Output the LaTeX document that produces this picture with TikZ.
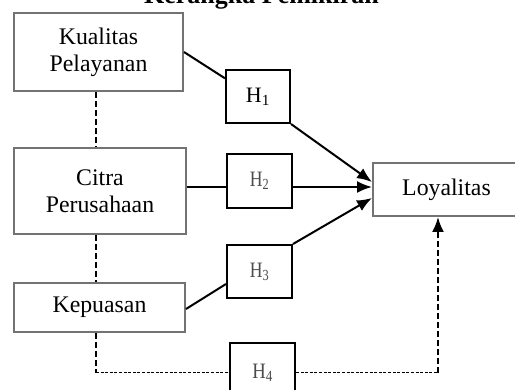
\documentclass[tikz,border=0pt]{standalone}
\usepackage{fontspec}
\setmainfont{Liberation Serif}
\usetikzlibrary{calc,arrows.meta}
\begin{document}
\begin{tikzpicture}[x=1pt,y=-1pt,
  varbox/.style={draw=gray!90!black,line width=2pt,fill=white,align=center,
    font=\fontsize{23.8}{27}\selectfont,inner sep=0pt},
  hbox/.style={draw=black,line width=2pt,fill=white,minimum width=64pt,
    minimum height=53pt,inner sep=0pt,font=\fontsize{22}{24}\selectfont},
  hlabel/.style={text=black!70},
  conn/.style={line width=2pt},
  arr/.style={line width=2pt,-{Latex[length=15pt,width=12pt]}},
  dashv/.style={line width=2.2pt,dash pattern=on 6pt off 3pt},
  dashh/.style={line width=1pt,dash pattern=on 3pt off 1.6pt}]
\useasboundingbox (0,0) rectangle (515,390);
\node[anchor=base,font=\bfseries\fontsize{26}{30}\selectfont] (title) at (261.5,4) {Kerangka Pemikiran};
\node[varbox,minimum width=169pt,minimum height=78pt] (kual) at (98.5,52) {Kualitas\\Pelayanan};
\node[varbox,minimum width=172pt,minimum height=86pt] (cit) at (100,191) {Citra\\Perusahaan};
\node[varbox,minimum width=171pt,minimum height=49pt] (kep) at (99.5,307.5) {Kepuasan};
\node[varbox,minimum width=147pt,minimum height=53pt] (loy) at (446.5,189.5) {Loyalitas};
\node[hbox] (h1) at (258,96.5) {H\textsubscript{1}};
\node[hbox,minimum width=65pt,minimum height=54pt,hlabel] (h2) at (259.5,181) {\scalebox{0.8}[1]{H\textsubscript{2}}};
\node[hbox,minimum width=65pt,hlabel] (h3) at (259.5,271.5) {\scalebox{0.8}[1]{H\textsubscript{3}}};
\node[hbox,minimum width=65pt,minimum height=60pt,hlabel] (h4) at (262.5,373) {\scalebox{0.85}[1]{H\textsubscript{4}}};
% solid connectors
\draw[conn] (kual.east) -- ($(h1.north west)!0.17!(h1.south west)$);
\draw[arr] (h1.south east) -- ($(loy.west)+(0,-7.5)$);
\draw[conn] ($(cit.east)+(0,-4)$) -- ($(h2.west)+(0,6)$);
\draw[arr] ($(h2.east)+(0,6)$) -- ($(loy.west)+(0,-2.5)$);
\draw[conn] ($(kep.east)+(0,1.5)$) -- ($(h3.west)+(0,12.5)$);
\draw[arr] (h3.north east) -- ($(loy.west)+(0,8.5)$);
% dashed connectors
\coordinate (dx) at ($(kual.south)+(-2.5,0)$);
\draw[dashv] (dx) -- (dx |- cit.north);
\draw[dashv] (dx |- cit.south) -- (dx |- kep.north);
\coordinate (bl) at (dx |- h4.west);
\draw[dashv] (dx |- kep.south) -- (bl);
\draw[dashh] (bl) -- (h4.west);
\coordinate (lx) at ($(loy.south)+(-8.5,0)$);
\coordinate (br) at (lx |- h4.east);
\draw[dashh] (h4.east) -- (br);
\draw[dashv,-{Latex[length=15pt,width=12pt]}] (br) -- (lx);
\end{tikzpicture}
\end{document}
